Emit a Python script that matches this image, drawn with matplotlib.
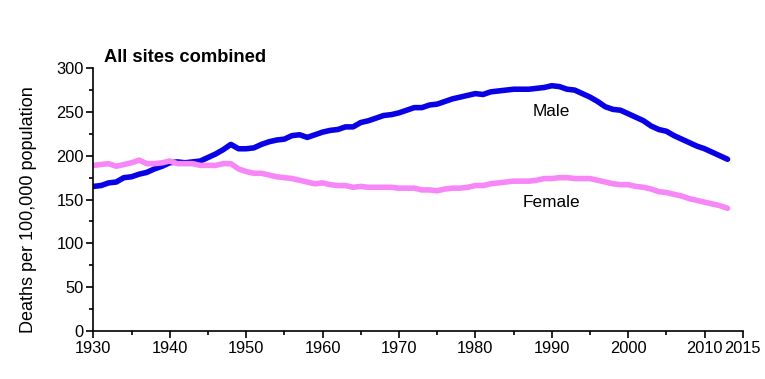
import matplotlib
matplotlib.use("Agg")
import matplotlib.pyplot as plt
import numpy as np

years = list(range(1930, 2014))
male = [165, 166, 169, 170, 175, 176, 179, 181, 185, 188,
        192, 193, 192, 193, 194, 198, 202, 207, 213, 208,
        208, 209, 213, 216, 218, 219, 223, 224, 221, 224,
        227, 229, 230, 233, 233, 238, 240, 243, 246, 247,
        249, 252, 255, 255, 258, 259, 262, 265, 267, 269,
        271, 270, 273, 274, 275, 276, 276, 276, 277, 278,
        280, 279, 276, 275, 271, 267, 262, 256, 253, 252,
        248, 244, 240, 234, 230, 228, 223, 219, 215, 211,
        208, 204, 200, 196]
female = [189, 190, 191, 188, 190, 192, 195, 191, 191, 192,
          194, 191, 191, 191, 189, 189, 189, 191, 191, 185,
          182, 180, 180, 178, 176, 175, 174, 172, 170, 168,
          169, 167, 166, 166, 164, 165, 164, 164, 164, 164,
          163, 163, 163, 161, 161, 160, 162, 163, 163, 164,
          166, 166, 168, 169, 170, 171, 171, 171, 172, 174,
          174, 175, 175, 174, 174, 174, 172, 170, 168, 167,
          167, 165, 164, 162, 159, 158, 156, 154, 151, 149,
          147, 145, 143, 140]
xticks = [1930, 1940, 1950, 1960, 1970, 1980, 1990, 2000, 2010, 2015]

plt.rcParams['font.family'] = ['Liberation Sans', 'DejaVu Sans']

fig = plt.figure(figsize=(7.65, 3.79), dpi=100)
ax = fig.add_axes([0.122, 0.127, 0.849, 0.693])

ax.plot(years, male, color='#0A00E6', lw=4.0, solid_capstyle='round')
ax.plot(years, female, color='#F787F7', lw=4.0, solid_capstyle='round')

ax.set_xlim(1930, 2015)
ax.set_ylim(0, 300)
ax.set_xticks(xticks)
ax.set_xticks([1935, 1945, 1955, 1965, 1975, 1985, 1995, 2005], minor=True)
ax.set_yticks(np.arange(0, 301, 50))
ax.set_yticks(np.arange(25, 300, 50), minor=True)
ax.tick_params(which='major', direction='out', length=5, width=1.2, labelsize=11.8, pad=2)
ax.tick_params(which='minor', direction='out', length=3, width=1.2)
ax.spines['top'].set_visible(False)
ax.spines['right'].set_visible(False)
ax.spines['left'].set_linewidth(1.2)
ax.spines['bottom'].set_linewidth(1.2)
ax.set_ylabel("Deaths per 100,000 population", fontsize=13)
ax.yaxis.set_label_coords(-0.087, 0.46)

ax.text(1931.4, 302, "All sites combined", fontsize=13.2, fontweight='bold', ha='left', va='bottom')
ax.text(1990, 250, "Male", fontsize=12.4, ha='center', va='center')
ax.text(1990, 147, "Female", fontsize=12.4, ha='center', va='center')

fig.savefig("out.png", dpi=100)
